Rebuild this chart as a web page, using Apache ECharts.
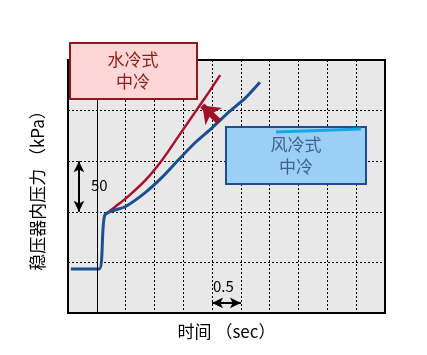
<!DOCTYPE html>
<html>
<head>
<meta charset="utf-8">
<script src="https://cdn.jsdelivr.net/npm/echarts@6/dist/echarts.min.js"></script>
<style>
  html, body { margin: 0; padding: 0; background: #fff; }
  #chart { width: 427px; height: 355px; }
</style>
</head>
<body>
<div id="chart"></div>
<script>
// 风冷式中冷 (blue)
const airTime = [0.05, 0.54, 0.64, 0.99, 1.34, 1.63, 1.91, 2.2, 2.5, 2.78, 3.07, 3.33]
const airPressure = [43.5, 43.5, 97, 105, 119, 134, 151, 168, 183, 198, 212, 228]
// 水冷式中冷 (red)
const waterTime = [0.64, 0.82, 1.04, 1.34, 1.63, 1.91, 2.2, 2.43, 2.64]
const waterPressure = [97, 105, 115, 131, 151, 174, 198, 217, 235]

const xTicks = { min: 0, max: 5.5, interval: 0.5 }
const yTicks = { min: 0, max: 250, interval: 50 }

const font = '"Noto Sans CJK SC", sans-serif'
const chart = echarts.init(document.getElementById('chart'))

const arrowLine = (from, to, color, width, symbols, size) => [
  { coord: from, symbol: symbols[0], symbolSize: size, lineStyle: { color, width, type: 'solid' } },
  { coord: to, symbol: symbols[1], symbolSize: size },
]

chart.setOption({
  animation: false,
  grid: {
    left: 68, right: 42, top: 60, bottom: 42,
    show: true, backgroundColor: '#e8e8e8', borderColor: '#000', borderWidth: 2,
  },
  xAxis: {
    type: 'value', ...xTicks,
    name: '时间 （sec）', nameLocation: 'middle', nameGap: 10,
    nameTextStyle: { fontFamily: font, fontSize: 17, color: '#000' },
    axisLabel: { show: false }, axisTick: { show: false },
    axisLine: { show: true, lineStyle: { color: '#000', width: 1 } },
    splitLine: { show: true, lineStyle: { color: '#000', type: [2, 2], width: 1 } },
  },
  yAxis: {
    type: 'value', ...yTicks,
    name: '稳压器内压力 （kPa）', nameLocation: 'middle', nameGap: 22,
    nameTextStyle: { fontFamily: font, fontSize: 17, color: '#000' },
    axisLabel: { show: false }, axisTick: { show: false },
    axisLine: { show: true, lineStyle: { color: '#000', width: 1 } },
    splitLine: { show: true, lineStyle: { color: '#000', type: [2, 2], width: 1 } },
  },
  series: [
    {
      name: '水冷式中冷', type: 'line', symbol: 'none', z: 3, smooth: 0.3,
      data: waterTime.map((t, i) => [t, waterPressure[i]]),
      lineStyle: { color: '#a8102e', width: 2.5 },
    },
    {
      name: '风冷式中冷', type: 'line', symbol: 'none', z: 4, smooth: 0.2,
      data: airTime.map((t, i) => [t, airPressure[i]]),
      lineStyle: { color: '#1c4f8f', width: 3 },
      markLine: {
        silent: true, animation: false,
        label: { show: false },
        data: [
          [{ coord: [0.5, 0], symbol: 'none', lineStyle: { color: '#000', width: 1, type: 'solid' } },
           { coord: [0.5, 250], symbol: 'none' }],
          arrowLine([0.19, 100], [0.19, 150], '#000', 2, ['arrow', 'arrow'], [8, 11]),
          arrowLine([2.5, 10], [3.0, 10], '#000', 2, ['arrow', 'arrow'], [8, 11]),
          arrowLine([2.62, 189], [2.33, 205], '#a0102a', 6, ['none', 'arrow'], [18, 16]),
        ],
      },
    },
  ],
  graphic: [
    {
      type: 'rect', z: 10, shape: { x: 70, y: 43, width: 127, height: 56 },
      style: { fill: '#fdd6d6', stroke: '#8b1a1a', lineWidth: 2 },
    },
    {
      type: 'text', z: 11, x: 133, y: 49, style: {
        text: '水冷式\n中冷', align: 'center', lineHeight: 22,
        fill: '#8b1a1a', font: '17px ' + font,
      },
    },
    {
      type: 'rect', z: 10, shape: { x: 226, y: 127, width: 140, height: 57 },
      style: { fill: '#9ccff5', stroke: '#1f4e8c', lineWidth: 2 },
    },
    {
      type: 'line', z: 12, shape: { x1: 276, y1: 132, x2: 361, y2: 129 },
      style: { stroke: '#1aa6e6', lineWidth: 3 },
    },
    {
      type: 'text', z: 11, x: 296, y: 134, style: {
        text: '风冷式\n中冷', align: 'center', lineHeight: 22,
        fill: '#3f5f8f', font: '17px ' + font,
      },
    },
    {
      type: 'text', z: 11, x: 91, y: 178, style: {
        text: '50', fill: '#000', font: '15px ' + font,
      },
    },
    {
      type: 'text', z: 11, x: 213, y: 279, style: {
        text: '0.5', fill: '#000', font: '15px ' + font,
      },
    },
  ],
})
</script>
</body>
</html>
